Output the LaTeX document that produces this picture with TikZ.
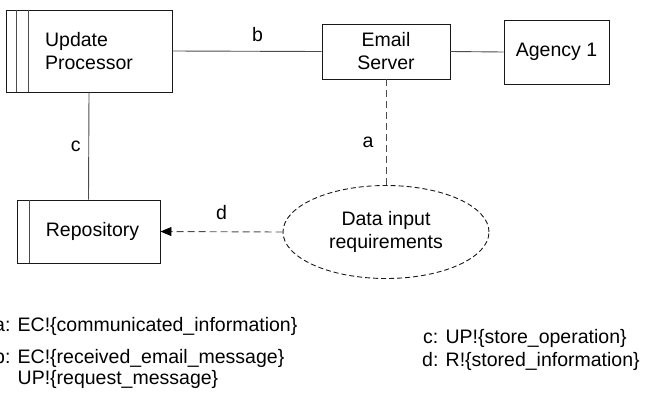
\documentclass[tikz,border=0pt]{standalone}
\usepackage{fontspec}
\setmainfont{Liberation Sans}
\usetikzlibrary{arrows.meta,shapes.geometric,positioning}

\begin{document}
\begin{tikzpicture}[x=1pt, y=-1pt,
        every node/.style={font=\fontsize{19.5}{23}\selectfont},
        box/.style={draw=black!90, line width=0.9pt, inner sep=0pt},
        conn/.style={draw=black!70, line width=0.9pt},
        flow/.style={conn, dash pattern=on 7pt off 4pt},
        legend/.style={anchor=base west, inner sep=0pt, align=left,
                font=\fontsize{19.5}{21}\selectfont}]
        \useasboundingbox (0, 0) rectangle (647, 392);
        % processes and stores
        \node[box, minimum width=166pt, minimum height=82pt, align=left] (upd) at (89, 51) {Update\\Processor};
        \node[box, minimum width=128pt, minimum height=55pt, align=center] (email) at (386, 51.5) {Email\\Server};
        \node[box, minimum width=105pt, minimum height=64pt] (agency) at (556.5, 52) {Agency 1};
        \node[box, minimum width=143pt, minimum height=63pt] (repo) at (88.5, 231.5) {\hspace*{8pt}Repository};
        \node[box, ellipse, dash pattern=on 5pt off 3pt, minimum width=206pt, minimum height=93pt,
              align=center] (req) at (386, 232) {Data input\\requirements};
        \draw[conn] ([xshift=11pt]upd.north west) -- ([xshift=11pt]upd.south west);
        \draw[conn] ([xshift=23pt]upd.north west) -- ([xshift=23pt]upd.south west);
        \draw[conn] ([xshift=13pt]repo.north west) -- ([xshift=13pt]repo.south west);
        % interfaces
        \draw[conn] (upd.east) -- (email.west) node[pos=0.57, yshift=17pt] (lb) {b};
        \draw[conn] (email.east) -- (agency.west);
        \draw[flow] (email.south) -- (req.north) node[pos=0.6, xshift=-18pt] (la) {a};
        \draw[conn] (upd.south) -- (repo.north) node[midway, xshift=-13pt] (lc) {c};
        \draw[flow, -{Triangle[length=11pt, width=9pt, color=black]}] (req.west) -- (repo.east)
                node[midway, yshift=19pt] (ld) {d};
        % phenomena
        \node[legend] (pha) at (-6, 331) {a: EC!\{communicated\_information\}};
        \node[legend] (phb) at (-6, 384) {b: EC!\{received\_email\_message\}\\\phantom{b: }UP!\{request\_message\}};
        \node[legend] (phc) at (423, 343) {c: UP!\{store\_operation\}};
        \node[legend] (phd) at (422, 366) {d: R!\{stored\_information\}};
\end{tikzpicture}
\end{document}
